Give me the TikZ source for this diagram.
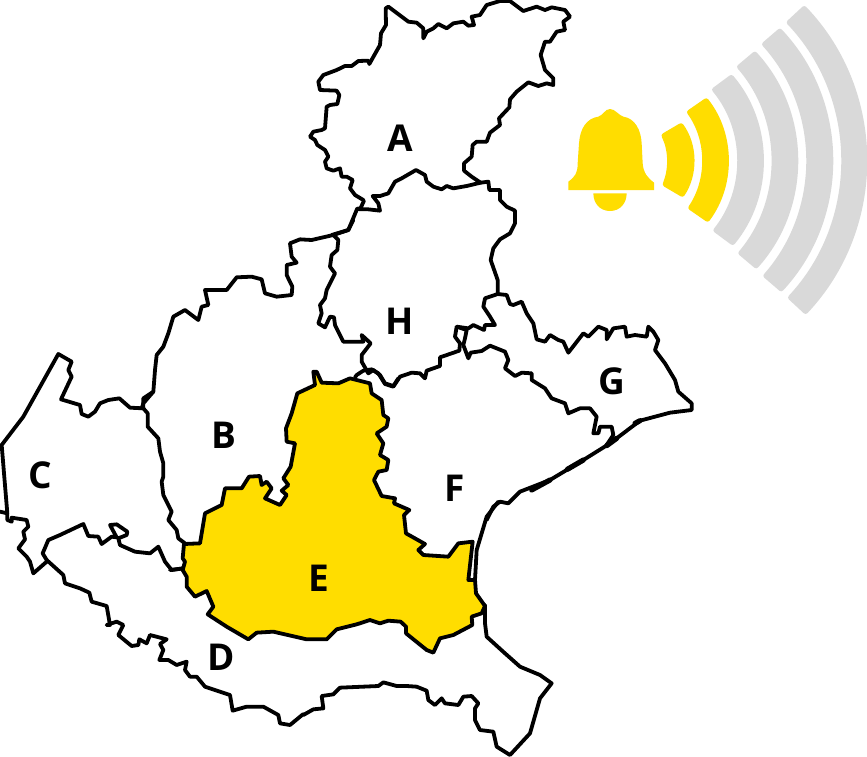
\documentclass[tikz,border=0pt]{standalone}
\usepackage{fontspec}
\setmainfont{Open Sans}
\definecolor{alertyellow}{HTML}{FFDD00}
\definecolor{bandgrey}{HTML}{D9D9D9}
\tikzset{
  mapline/.style={draw=black,line width=3.8pt,line join=round,line cap=round},
  thickcoast/.style={draw=black,line width=5.2pt,line cap=round},
  lettermark/.style={font=\fontsize{37}{37}\selectfont\bfseries,inner sep=0pt,text=black},
  zA/.style={shift={(280,0)},scale=0.33333},
  zB/.style={shift={(0,340)},scale=0.33333},
  zC/.style={shift={(130,220)},scale=0.33333},
  zD/.style={shift={(350,280)},scale=0.33333},
  zE/.style={shift={(170,370)},scale=0.33333},
  zF/.style={shift={(20,520)},scale=0.33333},
  zG/.style={shift={(300,560)},scale=0.33333},
  zH/.style={shift={(555,0)},scale=0.33333},
}
\newcommand{\sigband}[9]{%
  \fill[#1,rounded corners=2.6pt] (#2,480-#3) .. controls (#4,480-#5) and (#4,480+#5) .. (#2+4,480+#3)
    -- (#6+4,480+#7) .. controls (#8,480+#9) and (#8,480-#9) .. (#6,480-#7) -- cycle;}
\begin{document}
\begin{tikzpicture}[x=1pt,y=-1pt]
\useasboundingbox (0,0) rectangle (867,756);
\fill[white] (0,0) rectangle (867,756);

% A
\begin{scope}[zA]
\draw[mapline] (250,600)--(225,585)--(210,565)--(218,540)--(200,530)--(185,530)--(180,505)--(160,512)--(140,505)--(135,485)--(145,470)--(135,450)--(112,435)--(105,420)--(90,410)--(100,395)--(125,390)--(135,385)--(140,320)--(150,315)--(172,312)--(178,285)--(170,272)--(120,270)--(115,245)--(130,225)--(170,210)--(195,198)--(215,198)--(235,183)--(265,182)--(268,192)--(300,135)--(303,100)--(318,75)--(317,25)--(325,20)--(385,65)--(410,68)--(430,85)--(430,115)--(440,95)--(460,85)--(475,72)--(500,85)--(520,70)--(550,65)--(565,77)--(582,75)--(575,50)--(600,45)--(620,15)--(660,3)--(690,3)--(730,33)--(770,20)--(795,30)--(815,22)--(855,30)--(870,50)--(850,65)--(855,90)--(830,95)--(810,125)--(795,125)--(782,165)--(795,210)--(820,235)--(820,255)--(800,250)--(775,258)--(745,247)--(710,275)--(690,298)--(688,322)--(657,355)--(660,375)--(630,398)--(620,425)--(590,425)--(578,435)--(575,470)--(552,490)--(552,512)--(575,530)--(602,548)--(560,558)--(520,565)--(500,558)--(485,568)--(460,560)--(440,545)--(435,525)--(408,510)--(365,535)--(345,545)--(325,580)--(300,588)--(278,588)--(295,610)--(300,632)--(265,628)--(240,628)--(252,602);
% H east
\draw[mapline] (602,548)--(625,545)--(628,570)--(660,570)--(660,600)--(680,620)--(705,632)--(705,670)--(690,700)--(660,718)--(640,745)--(632,780)--(653,840)--(653,882);
% tail to H/B
\draw[mapline] (240,628)--(232,625)--(205,690)--(155,705);
\end{scope}

% H west, B north
\begin{scope}[zC]
\draw[mapline] (670,0)--(655,30)--(610,45)--(625,60)--(622,90)--(605,105)--(600,140)--(615,160)--(590,210)--(585,235)--(570,255)--(575,280)--(565,310)--(585,322)--(600,290)--(612,292)--(615,315)--(640,365)--(700,365)--(695,345)--(722,370)--(695,405)--(695,425)--(715,460)--(730,450)--(750,465)--(765,490)--(790,498)--(805,475);
\draw[mapline] (610,45)--(545,60)--(510,58)--(480,70)--(485,110)--(500,128)--(470,135)--(470,165)--(487,200)--(485,225)--(440,230)--(405,220)--(395,178)--(365,170)--(320,172)--(290,210)--(225,210)--(235,255)--(215,260)--(205,300)--(165,270)--(130,290)--(115,340)--(100,380)--(80,405)--(75,450)--(70,515)--(40,550)--(35,565);
\end{scope}

% C and B/C
\begin{scope}[zB]
\draw[mapline] (430,205)--(390,203)--(358,175)--(325,180)--(300,190)--(285,215)--(265,230)--(245,222)--(240,195)--(183,178)--(215,110)--(205,90)--(215,65)--(175,42)--(70,230)--(5,315)--(22,520)--(22,540)--(35,545)--(35,533)--(80,540)--(85,560)--(70,575)--(75,598)--(55,625)--(80,650)--(90,665)--(100,700)--(140,665);
\draw[mapline] (0,515)--(22,520);
\draw[mapline] (430,205)--(430,175)--(460,155);
\draw[mapline] (430,205)--(443,220)--(443,260)--(475,295)--(480,335)--(490,370)--(490,410)--(485,425)--(490,465)--(515,515)--(505,540)--(530,570)--(535,595)--(555,610);
\end{scope}

% D south-west + upper
\begin{scope}[zF]
\draw[mapline] (80,120)--(130,165)--(135,190)--(180,205)--(208,218)--(215,245)--(260,258)--(270,315)--(260,315)--(290,305)--(310,315)--(295,345)--(335,378)--(355,375)--(358,358)--(380,370)--(390,345)--(440,358)--(420,372)--(430,390)--(418,420)--(445,420)--(470,435)--(500,425)--(495,450)--(510,470)--(530,470)--(555,500)--(630,525)--(638,572)--(680,560)--(730,560)--(775,585)--(780,610)--(810,615)--(850,582);
\draw[mapline] (80,120)--(68,100)--(85,60)--(120,45)--(190,12)--(205,48)--(235,50)--(245,72)--(275,50)--(290,52)--(270,15)--(290,13)--(322,35)--(320,45)--(295,55)--(300,75)--(345,95)--(390,100)--(415,80)--(435,125)--(455,150)--(490,145);
\end{scope}

\begin{scope}[zG]
\draw[mapline] (555,135)--(555,190)--(560,230)--(615,280)--(660,320)--(720,345)--(755,370)--(720,415)--(690,520)--(630,585)--(590,560)--(580,515)--(540,510)--(525,480)--(525,445)--(535,430)--(515,408)--(490,410)--(475,435)--(435,430)--(425,415)--(405,435)--(385,420)--(380,392)--(350,380)--(320,378)--(290,378)--(250,367)--(235,378)--(120,383)--(100,403)--(65,408)--(70,445)--(40,448)--(10,465);
\end{scope}

% H south, G, F/G, coast
\begin{scope}[zD]
\draw[mapline] (443,42)--(405,55)--(400,80)--(420,110)--(435,135)--(405,135)--(402,150)--(370,135)--(355,145)--(320,140)--(315,170)--(330,190)--(328,212)--(270,232)--(270,258)--(230,272)--(225,295)--(210,280)--(185,278)--(150,290)--(130,320)--(105,312)--(85,280)--(65,268)--(40,272)--(20,285)--(15,292);
\draw[mapline] (443,42)--(470,45)--(480,72)--(490,75)--(515,65)--(530,100)--(550,130)--(560,178)--(585,185)--(600,165)--(625,180)--(640,185)--(655,218)--(700,160)--(715,170)--(745,140)--(770,150)--(770,178)--(790,145)--(825,140)--(830,170)--(855,165)--(890,170)--(895,140)--(910,155)--(925,180)--(915,210)--(945,250)--(975,300)--(985,335)--(1025,370)--(1025,390)--(960,398)--(870,422)--(780,490)--(700,540)--(600,600)--(510,635)--(475,670)--(450,665)--(430,680)--(410,720);
\draw[mapline] (320,140)--(350,150)--(345,175)--(340,195)--(355,235)--(362,218)--(395,213)--(420,197)--(465,215)--(475,240)--(465,265)--(495,288)--(515,278)--(545,280)--(545,300)--(585,325)--(605,355)--(645,370)--(655,400)--(690,385)--(720,385)--(740,410)--(730,460)--(745,460)--(750,440)--(785,440)--(790,465)--(770,495);
\draw[thickcoast] (652,568)--(700,540);
\draw[thickcoast] (545,630)--(600,600);
\draw[thickcoast] (770,497)--(800,475);
\draw[thickcoast] (855,430)--(870,422);
\end{scope}

% E and coast beside it
\begin{scope}[zE]
\filldraw[mapline,fill=alertyellow] (42,522)--(90,520)--(105,430)--(155,405)--(165,355)--(215,355)--(237,320)--(270,318)--(275,345)--(290,335)--(305,355)--(285,385)--(330,405)--(350,375)--(335,362)--(355,345)--(340,325)--(362,290)--(375,220)--(350,215)--(348,175)--(365,130)--(382,70)--(435,45)--(430,5)--(440,5)--(455,38)--(505,40)--(540,25)--(600,40)--(605,70)--(635,90)--(640,135)--(655,145)--(650,170)--(620,190)--(640,220)--(630,255)--(655,270)--(650,300)--(625,305)--(612,330)--(635,378)--(675,385)--(672,400)--(718,420)--(702,435)--(708,490)--(765,522)--(745,540)--(760,555)--(835,560)--(865,520)--(908,515)--(895,630)--(915,630)--(918,670)--(945,708)--(935,730)--(905,740)--(907,765)--(850,795)--(810,805)--(790,848)--(770,840)--(708,790)--(708,770)--(692,755)--(655,752)--(630,760)--(600,750)--(560,763)--(500,778)--(470,808)--(410,808)--(310,785)--(260,788)--(235,808)--(170,770)--(113,733)--(130,710)--(110,663)--(75,680)--(50,650)--(50,620)--(38,600)--(45,575)--(38,565)--cycle;
\draw[mapline] (985,395)--(950,440)--(935,490)--(920,540)--(915,630);
\draw[mapline] (0,600)--(40,595);
\end{scope}

% letters
\node[lettermark] (lA) at (400,138) {A};
\node[lettermark] (lB) at (224,435) {B};
\node[lettermark] (lC) at (40,475) {C};
\node[lettermark] (lD) at (221,657) {D};
\node[lettermark] (lE) at (319,578) {E};
\node[lettermark] (lF) at (455,488) {F};
\node[lettermark] (lG) at (612,381) {G};
\node[lettermark] (lH) at (400,321) {H};

% bell and signal
\begin{scope}[zH]
\fill[alertyellow] (40,570) -- (40,545) .. controls (60,530) and (68,520) .. (68,490) -- (72,430) .. controls (75,385) and (95,355) .. (130,350) .. controls (145,345) and (150,327) .. (165,327) .. controls (180,327) and (190,345) .. (205,350) .. controls (240,355) and (258,390) .. (260,430) -- (263,490) .. controls (265,520) and (280,535) .. (297,548) -- (297,570) -- cycle;
\fill[alertyellow] (115,580) -- (215,580) .. controls (215,610) and (195,633) .. (165,633) .. controls (135,633) and (115,610) .. (115,580) -- cycle;
\sigband{bandgrey}{748}{465}{997.3}{205.1}{692}{413}{912}{182}
\sigband{bandgrey}{675}{397}{885.7}{174.2}{618}{348}{796.7}{150.4}
\sigband{bandgrey}{600}{328}{770.7}{142.6}{543}{280}{683}{119.6}
\sigband{bandgrey}{530}{258}{656.7}{109.3}{468}{212}{570.7}{89.4}
\sigband{alertyellow}{455}{188}{541.7}{77.7}{393}{145}{455.7}{58.5}
\sigband{alertyellow}{380}{113}{429.3}{45.8}{317}{76}{341}{28.2}
\end{scope}
\end{tikzpicture}
\end{document}
